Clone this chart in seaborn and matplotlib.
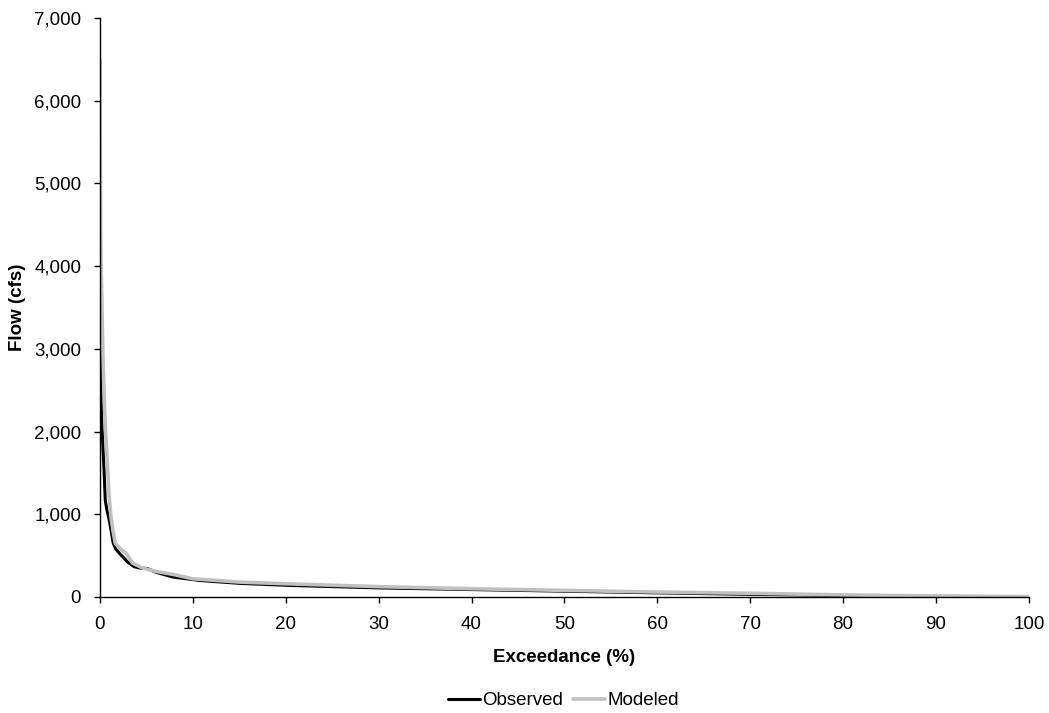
import matplotlib
matplotlib.use("Agg")
import matplotlib.pyplot as plt
import matplotlib.ticker as mticker
import numpy as np
import pandas as pd
import seaborn as sns

# Flow duration curves: percent of time a flow is exceeded vs. flow (cfs)
obs_exceedance = [0.0, 0.02, 0.05, 0.1, 0.17, 0.3, 0.45, 0.57, 0.75, 1.0, 1.2,
                  1.43, 1.7, 2.08, 2.5, 3.0, 3.7, 4.3, 5.1, 6.0, 7.8, 10.7, 15.0,
                  20.4, 30.0, 40.0, 50.0, 60.0, 70.0, 80.0, 90.0, 95.0, 100.0]
obs_flow = [5800, 4200, 3000, 2700, 2180, 1860, 1500, 1170, 1050, 930, 800,
            650, 580, 530, 480, 420, 365, 350, 345, 300, 242, 200, 165,
            140, 110, 90, 70, 50, 32, 18, 8, 5, 2]

mod_exceedance = [0.0, 0.03, 0.08, 0.12, 0.2, 0.3, 0.46, 0.6, 0.82, 1.0, 1.18,
                  1.4, 1.64, 2.2, 2.8, 3.5, 4.6, 6.0, 8.0, 10.0, 15.0, 20.0,
                  30.0, 40.0, 50.0, 60.0, 70.0, 80.0, 90.0, 95.0, 100.0]
mod_flow = [6500, 5500, 4500, 4000, 3590, 3000, 2380, 2000, 1570, 1200, 970,
            800, 650, 580, 530, 410, 350, 310, 270, 220, 180, 160,
            125, 100, 80, 60, 45, 25, 12, 8, 5]

x_ticks = [0, 10, 20, 30, 40, 50, 60, 70, 80, 90, 100]
y_ticks = [0, 1000, 2000, 3000, 4000, 5000, 6000, 7000]

sns.set_theme(style="ticks")
plt.rcParams['font.family'] = ['Liberation Sans', 'DejaVu Sans']
plt.rcParams['text.color'] = 'black'
plt.rcParams['axes.labelcolor'] = 'black'

FS = 13.5

obs = pd.DataFrame({"Exceedance": obs_exceedance, "Flow": obs_flow, "Series": "Observed"})
mod = pd.DataFrame({"Exceedance": mod_exceedance, "Flow": mod_flow, "Series": "Modeled"})

fig = plt.figure(figsize=(10.49, 7.13), dpi=100)
ax = fig.add_axes([0.0953, 0.1627, 0.8855, 0.8121])

sns.lineplot(data=obs, x="Exceedance", y="Flow", color="black", linewidth=2.2,
             sort=False, ax=ax, label="Observed")
sns.lineplot(data=mod, x="Exceedance", y="Flow", color="#c0c0c0", linewidth=2.6,
             sort=False, ax=ax, label="Modeled")

ax.set_xlim(0, 100)
ax.set_ylim(0, 7000)
ax.set_xticks(x_ticks)
ax.set_yticks(y_ticks)
ax.yaxis.set_major_formatter(mticker.FuncFormatter(lambda v, p: f"{int(v):,}"))
ax.tick_params(axis="both", direction="out", length=4.5, width=1, color="black",
               labelsize=FS, labelcolor="black")
ax.tick_params(axis="x", pad=9)
ax.tick_params(axis="y", pad=9)

for side in ("top", "right"):
    ax.spines[side].set_visible(False)
for side in ("left", "bottom"):
    ax.spines[side].set_color("black")
    ax.spines[side].set_linewidth(1.0)

ax.set_xlabel("Exceedance (%)", fontsize=FS, fontweight="bold", labelpad=12)
ax.set_ylabel("Flow (cfs)", fontsize=FS, fontweight="bold", labelpad=6)

ax.legend(loc="center", bbox_to_anchor=(0.537, 0.017), bbox_transform=fig.transFigure,
          ncol=2, frameon=False, fontsize=FS, handlelength=1.7, handletextpad=0.12,
          columnspacing=0.55, borderpad=0.2)

fig.savefig("out.png", dpi=100)
